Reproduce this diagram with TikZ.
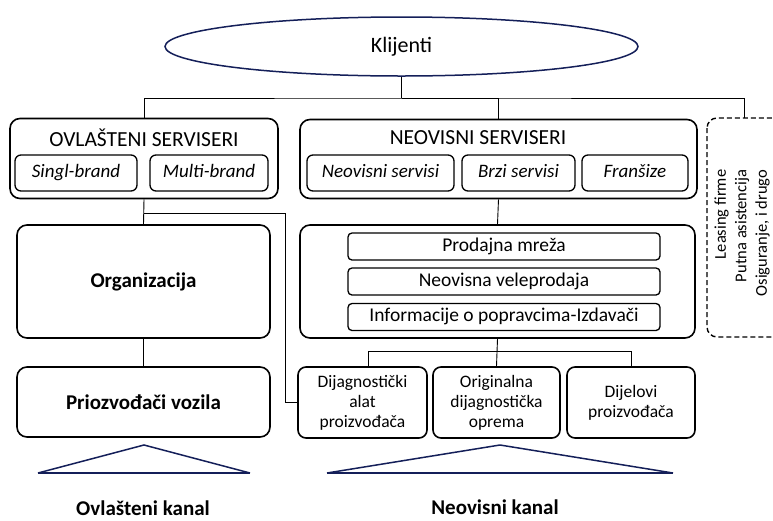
\documentclass[tikz,border=0pt]{standalone}
\usepackage{fontspec}
\setmainfont{Carlito}
\usetikzlibrary{shapes.geometric, positioning}

\definecolor{navy}{rgb}{0.08,0.12,0.35}

\begin{document}
\begin{tikzpicture}[x=1pt, y=-1pt,
  box/.style={draw, line width=1.6pt, rounded corners=10pt, inner sep=0pt},
  subbox/.style={draw, line width=1.3pt, rounded corners=6pt, inner sep=0pt,
    minimum height=36pt, text height=13pt, text depth=4pt,
    font=\fontsize{19}{22}\selectfont\itshape},
  bar/.style={draw, line width=1.3pt, rounded corners=4pt, inner sep=0pt,
    minimum width=312pt, minimum height=27pt, text height=13pt, text depth=4pt,
    font=\fontsize{19.5}{22}\selectfont},
  part/.style={box, rounded corners=8pt, minimum height=71pt, align=center,
    font=\fontsize{17.5}{20}\selectfont},
  ttl/.style={font=\fontsize{21.5}{24}\selectfont},
  big/.style={font=\fontsize{21}{24}\selectfont\bfseries},
  wire/.style={line width=0.9pt},
  tri/.style={draw=navy, line width=1.5pt, line join=miter}
]
  \useasboundingbox (0,0) rectangle (773,520);

  % Klijenti on top
  \node[ellipse, draw=navy, line width=1.5pt, minimum width=473pt,
    minimum height=59pt, font=\fontsize{22}{24}\selectfont] (kl) at (401.5,46.5) {Klijenti};

  % Authorised and independent service groups
  \node[box, minimum width=268pt, minimum height=80pt] (ovl) at (144,158.5) {};
  \node[ttl] (ovlt) at (144,138) {OVLAŠTENI SERVISERI};
  \node[subbox, minimum width=122pt] (singl) at (76,173) {Singl-brand};
  \node[subbox, minimum width=118pt] (multi) at (209,173) {Multi-brand};

  \node[box, minimum width=397pt, minimum height=79pt] (nez) at (498.5,159) {};
  \node[ttl] (nezt) at (478,138) {NEOVISNI SERVISERI};
  \node[subbox, minimum width=147pt] (neosv) at (380.5,173) {Neovisni servisi};
  \node[subbox, minimum width=113pt] (brzi) at (518.5,173) {Brzi servisi};
  \node[subbox, minimum width=106pt] (fran) at (635,173) {Franšize};

  % Other parties (box runs off the page)
  \draw[line width=1.4pt, dash pattern=on 5pt off 3pt, rounded corners=10pt]
    (707,118) rectangle (800,337);
  \coordinate (oth) at (744,118);
  \node[rotate=90, align=right, font=\fontsize{16.5}{20.5}\selectfont] (othr) at (742,233)
    {Leasing firme\\Putna asistencija\\Osiguranje, i drugo};

  % Left column
  \node[box, minimum width=253pt, minimum height=113pt, big] (org) at (143.5,281.5) {Organizacija};
  \node[box, minimum width=253pt, minimum height=70pt, big] (proz) at (143.5,402) {Priozvođači vozila};

  % Right column
  \node[box, minimum width=395pt, minimum height=113pt] (mreza) at (497.5,281.5) {};
  \node[bar] (prod) at (504,246.5) {Prodajna mreža};
  \node[bar] (velep) at (504,281.5) {Neovisna veleprodaja};
  \node[bar] (info) at (504,317) {Informacije o popravcima-Izdavači};

  \node[part, minimum width=129pt] (dijag) at (362.5,402.5) {Dijagnostički\\alat\\proizvođača};
  \node[part, minimum width=127pt] (orig) at (496.5,402.5) {Originalna\\dijagnostička\\oprema};
  \node[part, minimum width=128pt] (dijel) at (631,402.5) {Dijelovi\\proizvođača};

  % Connectors
  \coordinate (bus) at (401.5,98);
  \draw[wire] (kl.south) -- (bus);
  \draw[wire] (ovl.north) |- (bus) -| (oth);
  \draw[wire] (bus) -| (nez.north);
  \draw[wire] (ovl.south) -- (org.north);
  \draw[wire] (org.south) -- (proz.north);
  \draw[wire] (ovl.south) ++(0,14) -- ++(141,0) |- (dijag.west);
  \draw[wire] (nez.south) -- (mreza.north);
  \draw[wire] (mreza.south) -- (orig.north);
  \draw[wire] ([xshift=6pt]dijag.north) -- ++(0,-15) -| (dijel.north);

  % Channels
  \draw[tri] (38,473) -- (144,445) -- (250,473);
  \draw[tri] (327,473) -- (500,445) -- (673,473);
  \draw[tri, line width=2.2pt] (38,473) -- (250,473) (327,473) -- (673,473);
  \node[big] (ovk) at (143,508) {Ovlašteni kanal};
  \node[big] (nek) at (495,507) {Neovisni kanal};
\end{tikzpicture}
\end{document}
